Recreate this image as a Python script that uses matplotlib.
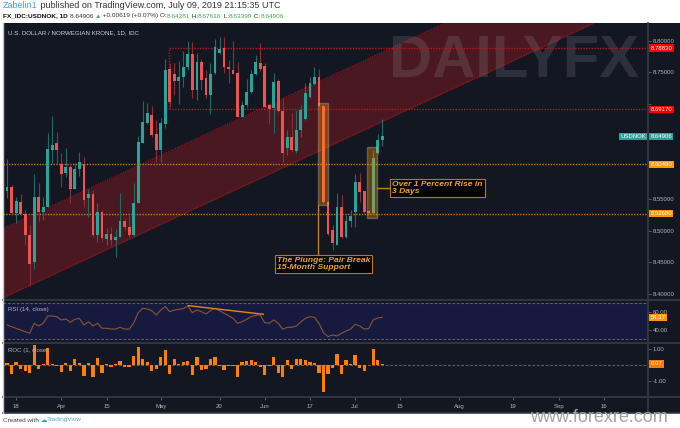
import numpy as np
import pandas as pd
import matplotlib as mpl
mpl.use('Agg')
import matplotlib.pyplot as plt
import matplotlib.transforms as mtrans
from matplotlib.patches import Rectangle

plt.rcParams['font.family'] = ['Liberation Sans', 'DejaVu Sans']

# USD/NOK daily candles, 14 Mar - 9 Jul 2019
opens = [8.5631, 8.5683, 8.5273, 8.5457, 8.5257, 8.4925, 8.4509, 8.5536, 8.5299, 8.5378,
         8.6273, 8.6389, 8.6052, 8.5905, 8.6000, 8.5652, 8.5973, 8.6052, 8.5510, 8.5573,
         8.4930, 8.5299, 8.4867, 8.4946, 8.4851, 8.4904, 8.5146, 8.5062, 8.4930, 8.5431,
         8.6389, 8.6695, 8.6826, 8.6531, 8.6273, 8.6684, 8.7553, 8.7469, 8.7369, 8.7421,
         8.7590, 8.7790, 8.7221, 8.7669, 8.7405, 8.7142, 8.7484, 8.7800, 8.7879, 8.7579,
         8.7537, 8.7484, 8.6800, 8.6984, 8.7184, 8.7474, 8.7642, 8.7606, 8.6984, 8.6932,
         8.7369, 8.6889, 8.6300, 8.6484, 8.6257, 8.6589, 8.6758, 8.7116, 8.7316, 8.7432,
         8.6968, 8.5457, 8.5009, 8.4772, 8.5378, 8.4894, 8.5157, 8.5299, 8.5773, 8.5620,
         8.5310, 8.5273, 8.6221, 8.64281]
highs = [8.6126, 8.5720, 8.5536, 8.5578, 8.5325, 8.5088, 8.5889, 8.5747, 8.5536, 8.6537,
         8.6810, 8.6558, 8.6221, 8.6300, 8.6063, 8.6073, 8.6247, 8.6168, 8.5652, 8.5641,
         8.5441, 8.5325, 8.5036, 8.5062, 8.5020, 8.5599, 8.5194, 8.5246, 8.5757, 8.6495,
         8.7053, 8.7011, 8.6968, 8.6747, 8.6774, 8.7706, 8.7642, 8.7653, 8.7685, 8.7843,
         8.7995, 8.7985, 8.7811, 8.7706, 8.7537, 8.7642, 8.8027, 8.8064, 8.8053, 8.7695,
         8.7995, 8.7669, 8.7053, 8.7390, 8.7537, 8.7774, 8.7958, 8.7642, 8.7000, 8.7484,
         8.7390, 8.7089, 8.6589, 8.6853, 8.6905, 8.6984, 8.7326, 8.7432, 8.7590, 8.7553,
         8.6984, 8.5473, 8.5088, 8.5589, 8.5562, 8.5246, 8.5325, 8.5894, 8.5905, 8.5631,
         8.5325, 8.6273, 8.6526, 8.67616]
lows = [8.5510, 8.5257, 8.5115, 8.5246, 8.4772, 8.4125, 8.4388, 8.5157, 8.5167, 8.5368,
        8.6073, 8.6052, 8.5694, 8.5852, 8.5431, 8.5652, 8.5863, 8.5378, 8.5220, 8.4904,
        8.4825, 8.4825, 8.4772, 8.4772, 8.4588, 8.4904, 8.5009, 8.4904, 8.4904, 8.5431,
        8.6379, 8.6684, 8.6484, 8.6089, 8.6089, 8.6616, 8.6958, 8.7142, 8.7000, 8.7274,
        8.7537, 8.7089, 8.7063, 8.7221, 8.7089, 8.6842, 8.7474, 8.7790, 8.7484, 8.7327,
        8.7474, 8.6800, 8.6789, 8.6958, 8.7169, 8.7458, 8.7527, 8.6947, 8.6705, 8.6537,
        8.6879, 8.6089, 8.6194, 8.6247, 8.6221, 8.6484, 8.6747, 8.7089, 8.7300, 8.6958,
        8.5431, 8.4930, 8.4693, 8.4772, 8.4878, 8.4878, 8.5062, 8.5062, 8.5457, 8.5273,
        8.5262, 8.5262, 8.6210, 8.63399]
closes = [8.5694, 8.5273, 8.5462, 8.5257, 8.4925, 8.4467, 8.5536, 8.5299, 8.5368, 8.6284,
          8.6352, 8.6273, 8.5889, 8.6000, 8.5652, 8.5973, 8.6089, 8.5483, 8.5573, 8.4930,
          8.5299, 8.4878, 8.4946, 8.4851, 8.4904, 8.5146, 8.5052, 8.4930, 8.5441, 8.6405,
          8.6710, 8.6853, 8.6505, 8.6273, 8.6695, 8.7537, 8.7037, 8.7369, 8.7432, 8.7590,
          8.7790, 8.7221, 8.7669, 8.7379, 8.7142, 8.7474, 8.7895, 8.7864, 8.7590, 8.7548,
          8.7474, 8.6800, 8.6979, 8.7190, 8.7474, 8.7658, 8.7548, 8.6958, 8.6921, 8.7342,
          8.6895, 8.6221, 8.6473, 8.6273, 8.6589, 8.6905, 8.7179, 8.7326, 8.7432, 8.6968,
          8.5457, 8.4946, 8.4799, 8.5378, 8.4894, 8.5157, 8.5231, 8.5773, 8.5604, 8.5289,
          8.5273, 8.6142, 8.6429, 8.64906]

rsi = [45.7, 43.8, 42.0, 40.1, 38.2, 36.4, 47.6, 44.6, 47.6, 55.8,
       55.8, 55.0, 51.3, 52.4, 48.7, 52.0, 53.2, 45.7, 49.4, 44.6,
       47.6, 42.0, 42.0, 41.2, 41.2, 43.1, 41.2, 40.9, 47.6, 59.5,
       64.4, 63.6, 61.8, 56.9, 62.5, 66.2, 60.6, 62.5, 63.2, 64.0,
       67.0, 59.5, 62.5, 60.6, 58.0, 61.8, 64.4, 61.8, 58.8, 56.2,
       53.2, 47.6, 49.4, 52.0, 55.0, 56.5, 56.9, 48.3, 47.6, 51.3,
       47.6, 40.9, 43.1, 43.1, 44.6, 49.1, 53.2, 55.0, 54.3, 47.6,
       37.1, 32.6, 34.5, 33.4, 36.4, 39.0, 40.9, 46.5, 44.6, 41.2,
       41.6, 51.3, 53.6, 54.37]

roc = [0.10, -0.57, 0.22, -0.24, -0.39, -0.54, 1.27, -0.28, 0.08, 1.07,
       0.08, -0.09, -0.45, 0.13, -0.40, 0.37, 0.13, -0.70, 0.11, -0.75,
       0.43, -0.49, 0.08, -0.11, 0.06, 0.28, -0.11, -0.14, 0.60, 1.13,
       0.35, 0.16, -0.40, -0.27, 0.49, 0.97, -0.57, 0.38, 0.07, 0.18,
       0.23, -0.65, 0.51, -0.33, -0.27, 0.38, 0.48, -0.04, -0.31, -0.05,
       -0.08, -0.77, 0.21, 0.24, 0.33, 0.21, -0.13, -0.67, -0.04, 0.48,
       -0.51, -0.78, 0.29, -0.23, 0.37, 0.36, 0.32, 0.17, 0.12, -0.53,
       -1.74, -0.60, -0.17, 0.68, -0.57, 0.31, 0.09, 0.64, -0.20, -0.37,
       -0.02, 1.02, 0.33, 0.07]

# drawings on the chart
zone_top, zone_bot = 8.78830, 8.69170
support_lines = [8.60490, 8.52680]
chan_idx = [-1, 142]
chan_top = [8.5028, 8.9775]
chan_bot = [8.3935, 8.8682]
zone_start = 35.8
rsi_trend_idx = [40.1, 56.7]
rsi_trend_val = [67.4, 57.7]

tick_dates = ['2019-03-18', '2019-04-01', '2019-04-15', '2019-05-01', '2019-05-20',
              '2019-06-03', '2019-06-17', '2019-07-01', '2019-07-15', '2019-08-01',
              '2019-08-19', '2019-09-02', '2019-09-16']
tick_labels = ['18', 'Apr', '15', 'May', '20', 'Jun', '17', 'Jul', '15', 'Aug',
               '19', 'Sep', '16']

dates = pd.bdate_range('2019-03-14', periods=142)
tick_idx = [dates.get_loc(pd.Timestamp(d)) for d in tick_dates]
n = len(closes)
x = np.arange(n)

W, H = 680, 428
BG = '#131722'
GRID = '#363a45'
TXT = '#b2b5be'
UP, DN = '#26a69a', '#ef5350'


def box(x0, y0, x1, y1):
    return [x0 / W, 1 - y1 / H, (x1 - x0) / W, (y1 - y0) / H]


fig = plt.figure(figsize=(6.8, 4.28), dpi=100)
fig.patch.set_facecolor('white')

bg = fig.add_axes(box(3, 23, 680, 413))
bg.set_facecolor(BG)
bg.set_xticks([]); bg.set_yticks([])
for s in bg.spines.values():
    s.set_visible(False)

ax = fig.add_axes(box(3, 23, 648, 300))
axr = fig.add_axes(box(3, 300, 648, 343))
axc = fig.add_axes(box(3, 343, 648, 397))
for a in (ax, axr, axc):
    a.set_facecolor('none')
    for s in a.spines.values():
        s.set_visible(False)
    a.set_xlim(-0.9, 141.8)
    a.yaxis.tick_right()
    a.tick_params(axis='y', length=2, width=0.5, color='#787b86', labelsize=4.3,
                  labelcolor=TXT, pad=1.5)
    a.tick_params(axis='x', length=0, labelbottom=False)

# --- main price panel
ax.set_ylim(8.39036, 8.82796)
yt = [8.40, 8.45, 8.50, 8.55, 8.60, 8.65, 8.70, 8.75, 8.80]
ax.set_yticks(yt)
# 8.60 / 8.65 / 8.70 sit under the drawing labels on the price scale
ax.set_yticklabels(['' if v in (8.60, 8.65, 8.70) else '%.5f' % v for v in yt])

ax.fill_between(chan_idx, chan_bot, chan_top, color='#4a1820', lw=0, zorder=0.5)
for line in (chan_top, chan_bot):
    ax.plot(chan_idx, line, color='#a3141c', lw=0.9, ls=(0, (1, 1)), zorder=0.6)

# watermark, sized to stay inside the plot area
ax.text(0.598, 0.805, 'DAILYFX', transform=ax.transAxes, fontsize=43, fontweight='bold',
        color='#8a8d96', alpha=0.22, ha='left', va='baseline', zorder=0.7, clip_on=True)

for lv in (zone_top, zone_bot):
    ax.plot([zone_start, 141.8], [lv, lv], color='#c0141c', lw=1, ls=(0, (1, 1)), zorder=1)
ax.plot([zone_start, zone_start], [zone_bot, zone_top], color='#c0141c', lw=1,
        ls=(0, (1, 1)), zorder=1)
for lv in support_lines:
    ax.plot([-0.9, 141.8], [lv, lv], color='#c77c16', lw=1, ls=(0, (1, 1)), zorder=1)

up = np.array(closes) >= np.array(opens)
for i in range(n):
    col = UP if up[i] else DN
    wick = '#1f6b66' if up[i] else '#8a2f36'
    ax.vlines(i, lows[i], highs[i], color=wick, lw=0.8, zorder=2)
    lo = min(opens[i], closes[i])
    h = max(abs(closes[i] - opens[i]), 0.0008)
    ax.bar(i, h, bottom=lo, width=0.62, color=col, lw=0, zorder=3)

# highlight boxes and callouts
ax.add_patch(Rectangle((68.8, 8.5404), 2.1, 8.7011 - 8.5404, fc='#ff9800', alpha=0.35,
                       ec='#bdbdbd', lw=1, zorder=4))
ax.add_patch(Rectangle((79.7, 8.5194), 2.1, 8.6325 - 8.5194, fc='#ff9800', alpha=0.35,
                       ec='#bdbdbd', lw=1, zorder=4))
ax.plot([68.7, 68.7], [8.5404, 8.4614], color='#c77c16', lw=1, zorder=4)
ax.plot([81.8, 84.7], [8.5673, 8.5673], color='#c77c16', lw=1, zorder=4)
call = dict(boxstyle='square,pad=0.25', fc='#050505', ec='#b8751a', lw=0.8)
ax.text(59.7, 8.4475, 'The Plunge: Pair Break\n15-Month Support', fontsize=6.1,
        fontweight='bold', style='italic', color='#f0a01e', va='center', ha='left',
        linespacing=0.95, bbox=call, zorder=6)
ax.text(85.2, 8.5673, 'Over 1 Percent Rise in\n3 Days', fontsize=6.1,
        fontweight='bold', style='italic', color='#f0a01e', va='center', ha='left',
        linespacing=0.95, bbox=call, zorder=6)

ax.text(0.008, 0.965, 'U.S. DOLLAR / NORWEGIAN KRONE, 1D, IDC', transform=ax.transAxes,
        fontsize=4.4, color='#d1d4dc', va='center', ha='left')

tr = mtrans.blended_transform_factory(ax.transAxes, ax.transData)
labels = [(zone_top, '8.78830', '#ff0000'), (zone_bot, '8.69170', '#ff0000'),
          (closes[-1], '8.64906', UP), (support_lines[0], '8.60490', '#ff9800'),
          (support_lines[1], '8.52680', '#ff9800')]
for v, s, c in labels:
    ax.text(1.004, v, s, transform=tr, fontsize=4.3, color='white', va='center', ha='left',
            bbox=dict(boxstyle='square,pad=0.2', fc=c, ec='none'), clip_on=False, zorder=8)
ax.text(0.997, closes[-1], 'USDNOK', transform=tr, fontsize=4.3, color='white', va='center',
        ha='right', bbox=dict(boxstyle='square,pad=0.2', fc=UP, ec='none'), zorder=8)

# --- RSI panel
axr.set_ylim(25.5, 73.7)
axr.set_yticks([40, 60])
axr.set_yticklabels(['40.00', '60.00'])
axr.fill_between([-0.9, 141.8], 30, 70, color='#161a3e', lw=0, zorder=0.5)
for lv in (30, 70):
    axr.axhline(lv, color='#5d606b', lw=0.8, ls=(0, (2.5, 1.5)), zorder=1)
axr.plot(x, rsi, color='#8c5530', lw=0.8, zorder=3)
axr.plot(rsi_trend_idx, rsi_trend_val, color='#e0871c', lw=1, zorder=4)
axr.text(0.008, 0.78, 'RSI (14, close)', transform=axr.transAxes, fontsize=4.4,
         color=TXT, va='center', ha='left')
trr = mtrans.blended_transform_factory(axr.transAxes, axr.transData)
axr.text(1.004, rsi[-1], '%.2f' % rsi[-1], transform=trr, fontsize=4.3, color='white',
         va='center', ha='left', bbox=dict(boxstyle='square,pad=0.2', fc='#ff9800', ec='none'),
         clip_on=False, zorder=8)

# --- ROC panel
axc.set_ylim(-2.04, 1.40)
axc.set_yticks([-1, 1])
axc.set_yticklabels(['-1.00', '1.00'])
axc.axhline(0, color='#5d606b', lw=0.8, ls=(0, (2.5, 1.5)), zorder=1)
axc.bar(x, roc, width=0.72, color='#ff8000', lw=0, zorder=3)
axc.text(0.008, 0.87, 'ROC (1, close)', transform=axc.transAxes, fontsize=4.4,
         color=TXT, va='center', ha='left')
trc = mtrans.blended_transform_factory(axc.transAxes, axc.transData)
axc.text(1.004, roc[-1], '%.2f' % roc[-1], transform=trc, fontsize=4.3, color='white',
         va='center', ha='left', bbox=dict(boxstyle='square,pad=0.2', fc='#ff7a00', ec='none'),
         clip_on=False, zorder=8)
axc.set_xticks(tick_idx)
axc.set_xticklabels(tick_labels)
axc.tick_params(axis='x', length=2, width=0.5, color='#787b86', labelbottom=True,
                labelsize=4.3, labelcolor=TXT, pad=3)

# panel borders
for yy in (300, 343, 397, 413):
    fig.add_artist(plt.Line2D([3 / W, 680 / W], [1 - yy / H, 1 - yy / H], color=GRID, lw=1.2))
fig.add_artist(plt.Line2D([648 / W, 648 / W], [1 - 23 / H, 1 - 413 / H], color=GRID, lw=1.2))
fig.add_artist(plt.Line2D([3 / W, 3 / W], [1 - 23 / H, 1 - 413 / H], color='#c8c8c8', lw=1))

# header text
rend = fig.canvas.get_renderer()


def pieces(y, parts, x0=3, size=5.4):
    xx = x0
    for s, c, w in parts:
        t = fig.text(xx / W, 1 - y / H, s, color=c, fontsize=size, fontweight=w,
                     va='center', ha='left')
        xx += t.get_window_extent(renderer=rend).width


DK = '#333333'
GR = '#3fae49'
pieces(6, [('Zabelin1', '#3ba4e0', 'normal'),
           (' published on TradingView.com, July 09, 2019 21:15:35 UTC', DK, 'normal')],
       size=6.5)
pieces(16, [('FX_IDC:USDNOK, 1D ', '#111111', 'bold'), ('8.64906 ', DK, 'normal'),
            ('\u25b2', GR, 'normal'), (' +0.00619 (+0.07%) O:', DK, 'normal'),
            ('8.64281', GR, 'normal'), (' H:', DK, 'normal'), ('8.67616', GR, 'normal'),
            (' L:', DK, 'normal'), ('8.63399', GR, 'normal'), (' C:', DK, 'normal'),
            ('8.64906', GR, 'normal')], size=4.65)

pieces(420, [('Created with ', '#444444', 'normal'), ('\u2601', '#2b9bd6', 'normal'),
             ('TradingView', '#5aa9dc', 'normal')], size=4.6)
fig.text(668 / W, 1 - 418 / H, 'www.forexre.com', fontsize=13, color='#a3a3a3',
         ha='right', va='center')

fig.savefig('out.png', dpi=100, facecolor='white')
